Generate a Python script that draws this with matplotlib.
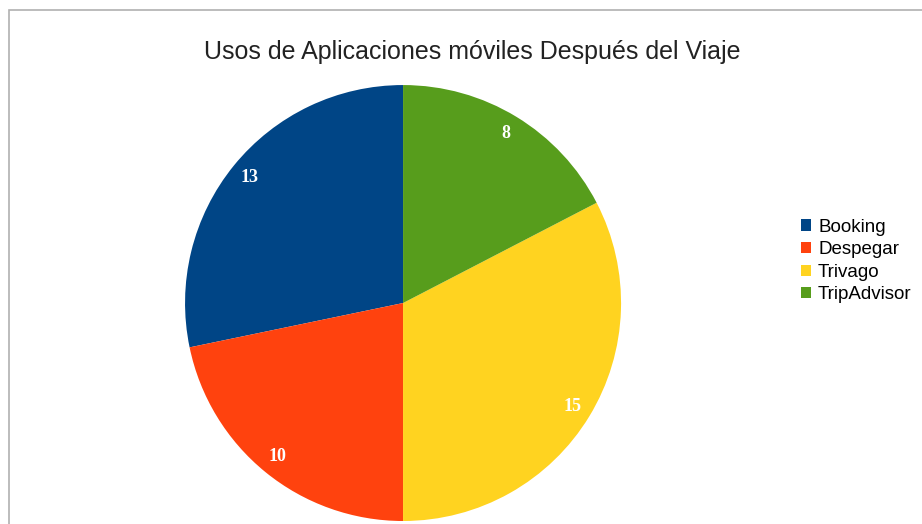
import matplotlib
matplotlib.use("Agg")
import matplotlib.pyplot as plt
from matplotlib.patches import Rectangle

# Donnees
categories = ["Booking", "Despegar", "Trivago", "TripAdvisor"]
valeurs    = [13, 10, 15, 8]
couleurs   = ["#004586", "#ff420e", "#ffd320", "#579d1c"]

TITRE = "Usos de Aplicaciones móviles Después del Viaje"

fig = plt.figure(figsize=(9.22, 5.24), dpi=100)

# cadre gris
fig.patches.append(Rectangle((9 / 922, -0.01), 1.0, 1 - 10 / 524 + 0.01,
                             transform=fig.transFigure, fill=False,
                             edgecolor="#b0b0b0", linewidth=1.2))

ax = fig.add_axes([0.2007, 0.0057, 0.4729, 0.832])
wedges, textes, autotextes = ax.pie(
    valeurs, colors=couleurs, startangle=90, counterclock=True,
    autopct=lambda p: "{:.0f}".format(p * sum(valeurs) / 100.0),
    pctdistance=0.91, radius=1.0,
    wedgeprops={"linewidth": 0},
    textprops={"color": "white", "fontsize": 13, "fontweight": "bold",
               "family": "Liberation Serif"})
ax.set_xlim(-1, 1)
ax.set_ylim(-1, 1)
ax.set_aspect("auto")

fig.text(472 / 922, 1 - 52 / 524, TITRE, ha="center", va="center",
         fontsize=18, family="Liberation Sans", color="#222222")

leg = fig.legend(wedges, categories, loc="center left",
                 bbox_to_anchor=(788 / 922, 1 - 261 / 524),
                 frameon=False, handlelength=0.55, handleheight=0.55,
                 handletextpad=0.35, labelspacing=0.3, borderpad=0.2,
                 prop={"family": "Liberation Sans", "size": 13.5})

fig.savefig("out.png", dpi=100)
